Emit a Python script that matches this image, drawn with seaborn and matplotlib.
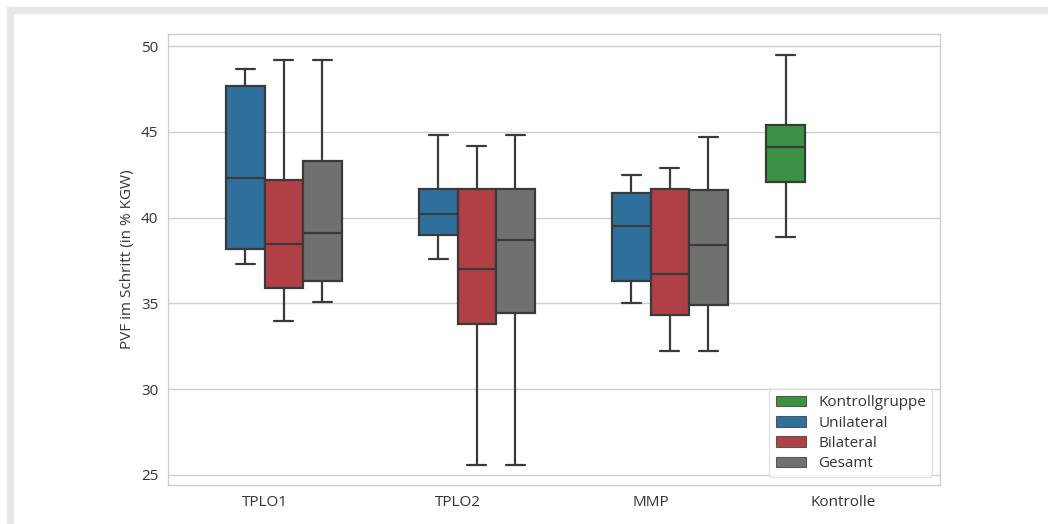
import numpy as np
import pandas as pd
import seaborn as sns
import matplotlib
matplotlib.use("Agg")
import matplotlib.pyplot as plt
from matplotlib.patches import Rectangle, Patch

# ---- data (five-number summaries: min, Q1, median, Q3, max) ----
categories = ["TPLO1", "TPLO2", "MMP", "Kontrolle"]
hue_levels = ["Kontrollgruppe", "Unilateral", "Bilateral", "Gesamt"]

unilateral_tplo1 = [37.3, 38.2, 42.3, 47.7, 48.7]
unilateral_tplo2 = [37.6, 39.0, 40.2, 41.7, 44.8]
unilateral_mmp = [35.0, 36.3, 39.5, 41.45, 42.5]

bilateral_tplo1 = [34.0, 35.9, 38.45, 42.2, 49.2]
bilateral_tplo2 = [25.6, 33.8, 37.0, 41.7, 44.2]
bilateral_mmp = [32.2, 34.35, 36.7, 41.65, 42.9]

gesamt_tplo1 = [35.1, 36.3, 39.1, 43.3, 49.2]
gesamt_tplo2 = [25.6, 34.45, 38.7, 41.7, 44.8]
gesamt_mmp = [32.2, 34.9, 38.4, 41.6, 44.7]

kontrolle = [38.9, 42.1, 44.1, 45.4, 49.5]

colors = ["#3b9144", "#2f6f9c", "#b03f46", "#6f716f"]

y_label = "PVF im Schritt (in % KGW)"

# ---- build long table ----
rows = []
def add(cat, hue, vals):
    for v in vals:
        rows.append({"Gruppe": cat, "Typ": hue, "PVF": v})

add("TPLO1", "Unilateral", unilateral_tplo1)
add("TPLO2", "Unilateral", unilateral_tplo2)
add("MMP", "Unilateral", unilateral_mmp)
add("TPLO1", "Bilateral", bilateral_tplo1)
add("TPLO2", "Bilateral", bilateral_tplo2)
add("MMP", "Bilateral", bilateral_mmp)
add("TPLO1", "Gesamt", gesamt_tplo1)
add("TPLO2", "Gesamt", gesamt_tplo2)
add("MMP", "Gesamt", gesamt_mmp)
add("Kontrolle", "Kontrollgruppe", kontrolle)
df = pd.DataFrame(rows)

sns.set_style("whitegrid")
plt.rcParams["font.family"] = ["Open Sans", "DejaVu Sans"]
plt.rcParams["text.color"] = "#333333"
plt.rcParams["xtick.color"] = "#333333"
plt.rcParams["ytick.color"] = "#333333"
plt.rcParams["axes.labelcolor"] = "#333333"

fig = plt.figure(figsize=(10.48, 5.24), dpi=100)
ax = fig.add_axes([168 / 1048, 1 - 485 / 524, (940 - 168) / 1048, (485 - 34.3) / 524])

sns.boxplot(
    data=df, x="Gruppe", y="PVF", hue="Typ",
    order=categories, hue_order=hue_levels,
    palette=colors, saturation=1, whis=(0, 100),
    linewidth=1.6, linecolor="#3a3a3a", width=0.8, ax=ax,
)

ax.set_xlabel("")
ax.set_ylabel(y_label, fontsize=11)
ax.tick_params(axis="both", labelsize=11)
for s in ax.spines.values():
    s.set_color("#d2cccc")
    s.set_linewidth(1.0)
ax.grid(axis="y", color="#d0d0d0", linewidth=1.0)

handles = [Patch(facecolor=c, edgecolor="#555555", linewidth=0.8) for c in colors]
leg = ax.legend(handles, hue_levels, loc="lower right", fontsize=11,
                frameon=True, labelspacing=0.35)
leg.get_frame().set_edgecolor("#dddddd")

# light grey scan frame (top and left bands)
fig.add_artist(Rectangle((7 / 1048, 0), 6 / 1048, (524 - 7) / 524,
                         transform=fig.transFigure, color="#e8e8e8", zorder=-1))
fig.add_artist(Rectangle((7 / 1048, 1 - 13 / 524), (1048 - 7) / 1048, 6 / 524,
                         transform=fig.transFigure, color="#e8e8e8", zorder=-1))

fig.savefig("out.png", dpi=100)
